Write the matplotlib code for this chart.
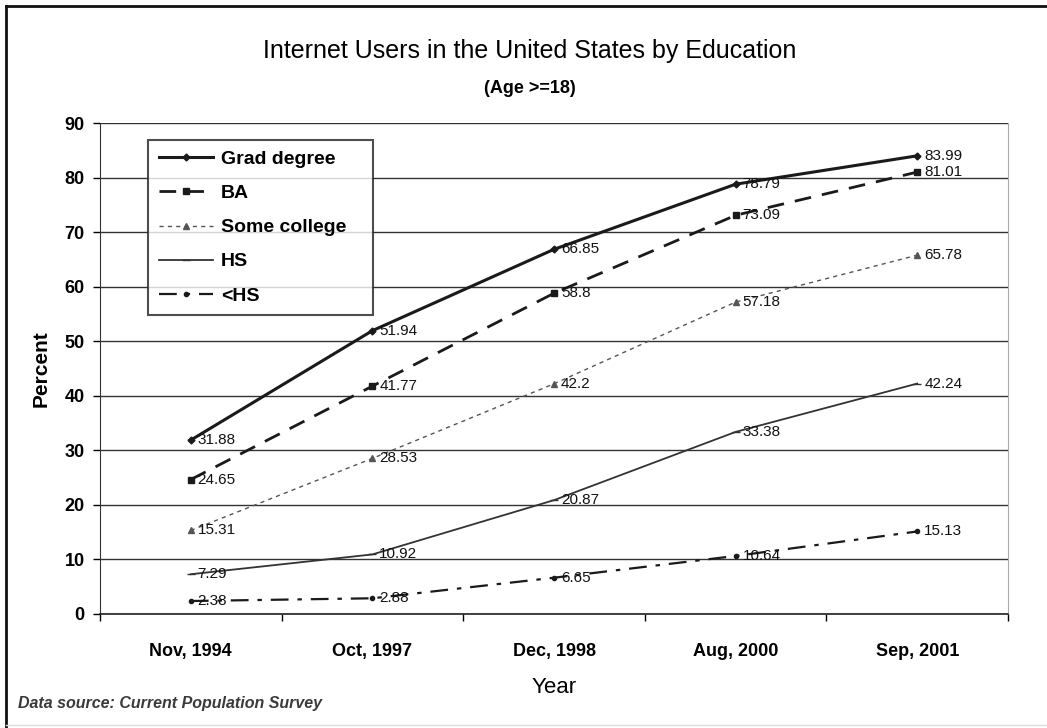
import matplotlib.pyplot as plt
from matplotlib.lines import Line2D

plt.rcParams['font.family'] = ['Liberation Sans', 'DejaVu Sans']

# survey dates and percent of adults online
years = ['Nov, 1994', 'Oct, 1997', 'Dec, 1998', 'Aug, 2000', 'Sep, 2001']
grad = [31.88, 51.94, 66.85, 78.79, 83.99]
ba = [24.65, 41.77, 58.8, 73.09, 81.01]
some_college = [15.31, 28.53, 42.2, 57.18, 65.78]
hs = [7.29, 10.92, 20.87, 33.38, 42.24]
less_hs = [2.38, 2.88, 6.65, 10.64, 15.13]

series = [
    ('Grad degree', grad, dict(color='#1a1a1a', lw=2.2, ls='-', marker='D', ms=3.5)),
    ('BA', ba, dict(color='#1a1a1a', lw=2.0, ls=(0, (6, 4)), marker='s', ms=4.5)),
    ('Some college', some_college, dict(color='#555555', lw=1.0, ls=(0, (3, 3)), marker='^', ms=4.5)),
    ('HS', hs, dict(color='#333333', lw=1.3, ls='-', marker='_', ms=6)),
    ('<HS', less_hs, dict(color='#1a1a1a', lw=1.6, ls=(0, (8, 4, 2, 4)), marker='o', ms=3)),
]

fig = plt.figure(figsize=(10.47, 7.28), dpi=100)
ax = fig.add_axes([0.0955, 0.1566, 0.8673, 0.6744])

x = list(range(len(years)))
handles = []
for name, vals, style in series:
    h, = ax.plot(x, vals, label=name, **style)
    handles.append(h)
    for xi, v in zip(x, vals):
        ax.annotate(f'{v:g}', (xi, v), xytext=(5, 0), textcoords='offset points',
                    ha='left', va='center', fontsize=11, color='#111111')

ax.set_xlim(-0.5, len(years) - 0.5)
ax.set_ylim(0, 90)
ax.set_yticks(range(0, 91, 10))
ax.set_yticklabels([str(v) for v in range(0, 91, 10)], fontsize=13, fontweight='bold')
ax.set_xticks(x)
ax.set_xticklabels(years, fontsize=13, fontweight='bold')
ax.tick_params(axis='x', length=0, pad=21)
ax.tick_params(axis='y', length=5, width=1, pad=6, direction='out')
ax.set_xticks([i + 0.5 for i in range(-1, len(years))], minor=True)
ax.tick_params(axis='x', which='minor', length=5, width=1, direction='out')

ax.grid(axis='y', color='#333333', lw=1.0)
ax.set_axisbelow(True)
ax.spines['top'].set_visible(False)
ax.spines['right'].set_color('#aaaaaa')
ax.spines['left'].set_color('#333333')
ax.spines['bottom'].set_color('#222222')
ax.spines['bottom'].set_linewidth(1.2)

ax.set_ylabel('Percent', fontsize=15, fontweight='bold', labelpad=10)
ax.set_xlabel('Year', fontsize=16, labelpad=12)

# legend box stretched to a fixed width
leg = ax.legend(handles=handles, loc='upper left', bbox_to_anchor=(0.053, 0.5, 0.248, 0.466),
                mode='expand', borderaxespad=0, frameon=True, fancybox=False,
                handlelength=2.8, labelspacing=0.85, borderpad=0.55, handletextpad=0.4,
                prop={'weight': 'bold', 'size': 14})
leg.get_frame().set_edgecolor('#222222')
leg.get_frame().set_linewidth(1.5)

fig.text(0.506, 0.93, 'Internet Users in the United States by Education',
         ha='center', va='center', fontsize=18)
fig.text(0.506, 0.879, '(Age >=18)', ha='center', va='center', fontsize=13, fontweight='bold')
fig.text(0.017, 0.034, 'Data source: Current Population Survey', ha='left', va='center',
         fontsize=11.5, style='italic', fontweight='bold', color='#3a3a3a')

# page border: dark on top and left, faint at the bottom
fig.add_artist(Line2D([0.006, 0.006], [0.0, 0.992], color='#111111', lw=2, transform=fig.transFigure))
fig.add_artist(Line2D([0.006, 1.0], [0.992, 0.992], color='#111111', lw=2, transform=fig.transFigure))
fig.add_artist(Line2D([0.006, 1.0], [0.004, 0.004], color='#dddddd', lw=1, transform=fig.transFigure))

fig.savefig('out.png', dpi=100)
